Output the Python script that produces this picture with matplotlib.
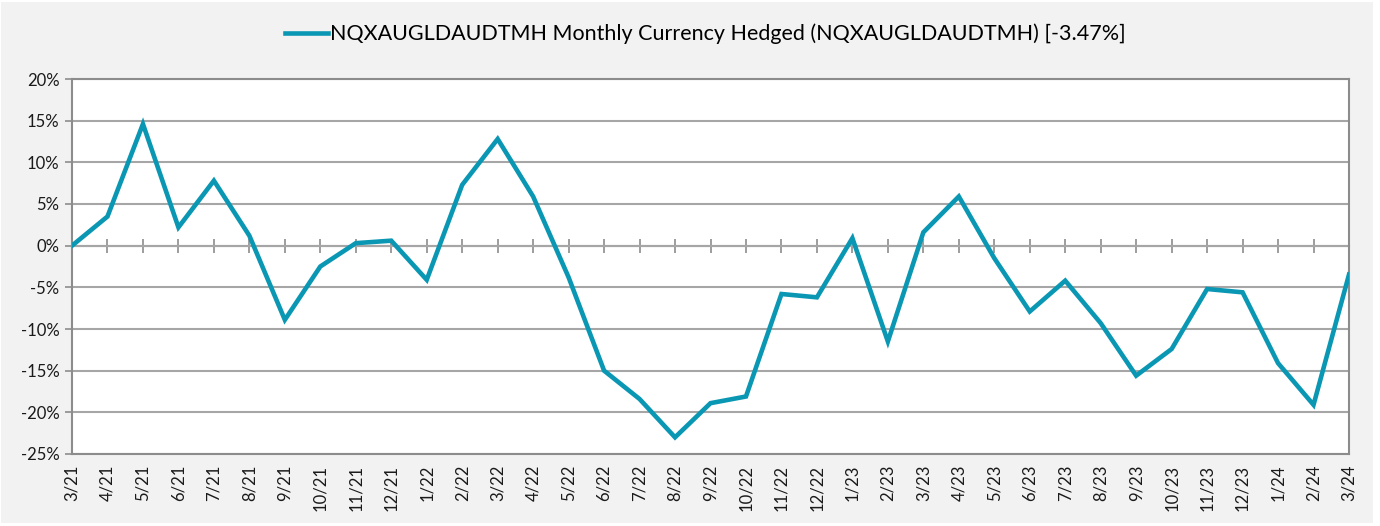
import matplotlib
matplotlib.use("Agg")
import matplotlib.pyplot as plt
from matplotlib.patches import Rectangle
from matplotlib.ticker import FuncFormatter

# dane (miesięczne stopy zwrotu, %)
miesiace = ["3/21", "4/21", "5/21", "6/21", "7/21", "8/21", "9/21", "10/21", "11/21", "12/21",
            "1/22", "2/22", "3/22", "4/22", "5/22", "6/22", "7/22", "8/22", "9/22", "10/22",
            "11/22", "12/22", "1/23", "2/23", "3/23", "4/23", "5/23", "6/23", "7/23", "8/23",
            "9/23", "10/23", "11/23", "12/23", "1/24", "2/24", "3/24"]
wartosci = [0.0, 3.5, 14.6, 2.2, 7.8, 1.2, -8.9, -2.5, 0.3, 0.6,
            -4.1, 7.3, 12.8, 5.9, -3.8, -15.0, -18.4, -23.0, -18.9, -18.1,
            -5.8, -6.2, 0.9, -11.5, 1.6, 5.9, -1.5, -7.9, -4.2, -9.3,
            -15.6, -12.4, -5.2, -5.6, -14.1, -19.1, -3.47]
seria = "NQXAUGLDAUDTMH Monthly Currency Hedged (NQXAUGLDAUDTMH) [-3.47%]"

KOLOR = "#0A97B3"
SIATKA = "#A6A6A6"
OS = "#8C8C8C"

plt.rcParams["font.family"] = ["Lato", "DejaVu Sans"]

fig = plt.figure(figsize=(13.8, 5.26), dpi=100, facecolor="white")
fig.patches.append(Rectangle((1 / 1380, 3 / 526), 1372 / 1380, 521 / 526,
                             transform=fig.transFigure, facecolor="#F2F2F2",
                             edgecolor="none", zorder=-10))
ax = fig.add_axes([72 / 1380, 1 - 454 / 526, 1277 / 1380, 375 / 526])
ax.set_facecolor("white")

x = list(range(len(miesiace)))
ax.plot(x, wartosci, color=KOLOR, lw=3.3, solid_joinstyle="miter", label=seria, zorder=4)

ax.set_xlim(0, len(miesiace) - 1)
ax.set_ylim(-25, 20)
ax.set_yticks(range(-25, 21, 5))
ax.yaxis.set_major_formatter(FuncFormatter(lambda v, p: f"{v:.0f}%"))
ax.grid(axis="y", color=SIATKA, lw=1.5)
ax.set_axisbelow(True)

ax.set_xticks(x)
ax.set_xticklabels(miesiace, rotation=90, fontsize=12, color="#1a1a1a")
ax.tick_params(axis="x", length=0, pad=8)
ax.tick_params(axis="y", length=5, width=1.2, color=OS, labelsize=12,
               labelcolor="#1a1a1a", pad=4)

for s in ax.spines.values():
    s.set_color(OS)
    s.set_linewidth(1.5)

# oś zero z kreskami
zero = ax.secondary_xaxis(25 / 45)
zero.set_xticks(x)
zero.set_xticklabels([])
zero.tick_params(direction="inout", length=10, width=1.2, color=OS)
zero.spines["bottom"].set_color(OS)
zero.spines["bottom"].set_linewidth(1.5)
zero.spines["top"].set_color(OS)
zero.spines["top"].set_linewidth(1.5)

fig.legend(loc="center", bbox_to_anchor=(705 / 1380, 1 - 34 / 526), frameon=False,
           fontsize=15.5, handlelength=2.0, handletextpad=0.1)

fig.savefig("out.png", dpi=100, facecolor=fig.get_facecolor())
